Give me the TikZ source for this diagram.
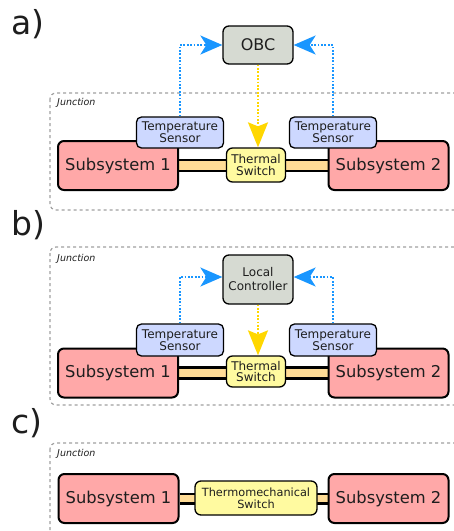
\documentclass[tikz,border=0pt]{standalone}
\usepackage{fontspec}
\setmainfont{DejaVu Sans}
\usetikzlibrary{arrows.meta,backgrounds}
\definecolor{subfill}{RGB}{255,168,168}
\definecolor{sensfill}{RGB}{205,216,255}
\definecolor{swfill}{RGB}{255,250,160}
\definecolor{ctrlfill}{RGB}{214,218,210}
\definecolor{barfill}{RGB}{255,220,150}
\definecolor{arrblue}{RGB}{25,150,255}
\definecolor{arryellow}{RGB}{255,215,0}
\definecolor{junc}{RGB}{160,160,160}
\definecolor{txt}{RGB}{30,30,30}
\begin{document}
\begin{tikzpicture}[x=1pt,y=-1pt,
  box/.style={draw=black, rounded corners=6pt, line width=1.3pt, inner sep=0pt, align=center, text=txt},
  subbox/.style={box, fill=subfill, line width=2pt, minimum width=120pt, minimum height=49pt, font=\fontsize{16.3}{16}\selectfont},
  sensbox/.style={box, fill=sensfill, rounded corners=5pt, minimum width=87pt, minimum height=31pt, font=\fontsize{12}{11.8}\selectfont},
  swbox/.style={box, fill=swfill, rounded corners=6pt, minimum width=59pt, minimum height=34pt, font=\fontsize{12}{11.8}\selectfont},
  ctrlbox/.style={box, fill=ctrlfill, minimum width=70pt, font=\fontsize{12}{14}\selectfont},
  junction/.style={draw=junc, dash pattern=on 3pt off 3pt, line width=1.2pt, rounded corners=6pt},
  junclabel/.style={anchor=base west, inner sep=0pt, text=txt, font=\fontsize{9.5}{9.5}\selectfont\itshape},
  panel/.style={anchor=base west, inner sep=0pt, text=txt, font=\fontsize{33}{33}\selectfont},
  bluearrow/.style={draw=arrblue, line width=1.7pt, dash pattern=on 1.7pt off 1.7pt, -{Stealth[length=22pt,width=19pt,inset=6pt]}},
  yellowarrow/.style={draw=arryellow, line width=1.7pt, dash pattern=on 1.7pt off 1.7pt, -{Stealth[length=25pt,width=20pt,inset=4pt]}},
  barout/.style={draw=black, line width=13.5pt},
  barin/.style={draw=barfill, line width=8.5pt},
]
\useasboundingbox (0,0) rectangle (454,531);
\clip (0,0) rectangle (454,531);

% ---------------- panel a ----------------
\node[panel] (la) at (11,34) {a)};
\draw[junction] (50,93) rectangle (470,210);
\node[junclabel] (ja) at (57,105) {Junction};
\node[ctrlbox, minimum height=38pt, font=\fontsize{16}{16}\selectfont] (obc) at (258,45) {OBC};
\node[subbox] (sa1) at (118,165.5) {Subsystem 1};
\node[subbox] (sa2) at (388.5,165.5) {Subsystem 2};
\node[sensbox] (ta1) at (180,132.5) {Temperature\\Sensor};
\node[sensbox] (ta2) at (333,132.5) {Temperature\\Sensor};
\node[swbox] (wa) at (256,165) {Thermal\\Switch};
\begin{scope}[on background layer]
  \draw[barout] (sa1.east) -- (sa2.west);
  \draw[barin] (sa1.east) -- (sa2.west);
\end{scope}
\draw[bluearrow] (ta1.north) |- (obc.west);
\draw[bluearrow] (ta2.north) |- (obc.east);
\draw[yellowarrow] (obc.south) -- (obc.south |- wa.north);

% ---------------- panel b ----------------
\node[panel] (lb) at (11,235) {b)};
\draw[junction] (50,247) rectangle (470,405);
\node[junclabel] (jb) at (57,261) {Junction};
\node[ctrlbox, minimum height=49pt] (lc) at (258,279.5) {Local\\Controller};
\node[subbox] (sb1) at (118,373) {Subsystem 1};
\node[subbox] (sb2) at (388.5,373) {Subsystem 2};
\node[sensbox, minimum height=32pt] (tb1) at (180,340) {Temperature\\Sensor};
\node[sensbox, minimum height=32pt] (tb2) at (333,340) {Temperature\\Sensor};
\node[swbox, minimum height=31pt] (wb) at (256,371.5) {Thermal\\Switch};
\begin{scope}[on background layer]
  \draw[barout] (sb1.east) -- (sb2.west);
  \draw[barin] (sb1.east) -- (sb2.west);
\end{scope}
\draw[bluearrow] (tb1.north) |- ([yshift=2.5pt]lc.west);
\draw[bluearrow] (tb2.north) |- ([yshift=2.5pt]lc.east);
\draw[yellowarrow] (lc.south) -- (lc.south |- wb.north);

% ---------------- panel c ----------------
\node[panel] (lcl) at (11,433) {c)};
\draw[junction] (50,443) rectangle (470,560);
\node[junclabel] (jc) at (57,456) {Junction};
\node[subbox] (sc1) at (118.5,498.5) {Subsystem 1};
\node[subbox] (sc2) at (388.5,498.5) {Subsystem 2};
\node[swbox, minimum width=122pt, font=\fontsize{11.3}{11.8}\selectfont] (wc) at (256,498) {Thermomechanical\\Switch};
\begin{scope}[on background layer]
  \draw[barout, line width=12pt] (sc1.east) -- (sc2.west);
  \draw[barin, line width=6.5pt] (sc1.east) -- (sc2.west);
\end{scope}
\end{tikzpicture}
\end{document}
